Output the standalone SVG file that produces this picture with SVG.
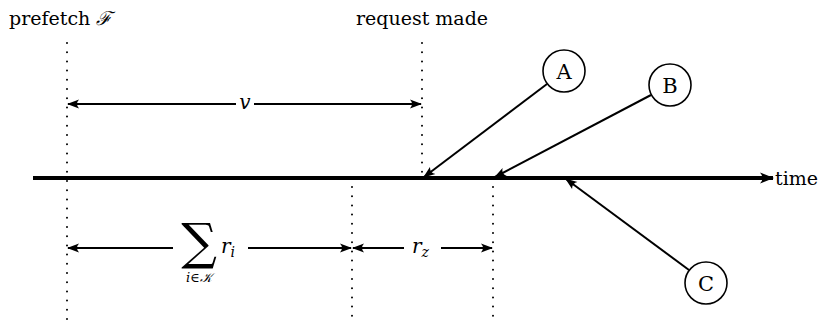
<svg xmlns="http://www.w3.org/2000/svg" width="825" height="321" viewBox="0 0 825 321">
  <style>
    .lbl { font-family: 'DejaVu Serif', serif; font-size: 19px; fill: #000; }
    .math { font-family: 'DejaVu Serif', serif; font-style: italic; fill: #000; }
    .dot { stroke: #000; stroke-width: 2; stroke-linecap: round; stroke-dasharray: 0 9.2; fill: none; }
    .arr { stroke: #000; stroke-width: 2; fill: none; marker-end: url(#tip); }
    .node circle { fill: #fff; stroke: #000; stroke-width: 1.6; }
    .node text { font-size: 21px; }
  </style>
  <defs>
    <marker id="tip" viewBox="0 0 12 10" refX="11" refY="5" markerWidth="12" markerHeight="10" markerUnits="userSpaceOnUse" orient="auto">
      <path d="M0,0.5 Q4,5 0,9.5 L12,5 Z" fill="#000"/>
    </marker>
    <marker id="bigtip" viewBox="0 0 14 12" refX="13" refY="6" markerWidth="14" markerHeight="12" markerUnits="userSpaceOnUse" orient="auto">
      <path d="M0,0.5 Q5,6 0,11.5 L14,6 Z" fill="#000"/>
    </marker>
  </defs>

  <!-- time axis -->
  <g id="axis">
    <line x1="33" y1="178" x2="773" y2="178" stroke="#000" stroke-width="4" marker-end="url(#bigtip)"/>
    <text class="lbl" x="775" y="185">time</text>
  </g>

  <!-- dotted guide lines -->
  <g id="guides">
    <line class="dot" x1="67" y1="43" x2="67" y2="320"/>
    <line class="dot" x1="422" y1="43" x2="422" y2="172"/>
    <line class="dot" x1="352" y1="187" x2="352" y2="320"/>
    <line class="dot" x1="493" y1="187" x2="493" y2="320"/>
  </g>

  <!-- labels above the axis -->
  <g id="labels">
    <text class="lbl" x="9" y="25">prefetch <tspan font-style="italic">ℱ</tspan></text>
    <text class="lbl" x="422" y="25" text-anchor="middle">request made</text>
  </g>

  <!-- interval v -->
  <g id="interval-v">
    <line class="arr" x1="236" y1="104" x2="68" y2="104"/>
    <line class="arr" x1="254" y1="104" x2="421" y2="104"/>
    <text class="math" x="245" y="109" font-size="20" text-anchor="middle">v</text>
  </g>

  <!-- interval sum r_i -->
  <g id="interval-sum">
    <line class="arr" x1="173" y1="248" x2="68" y2="248"/>
    <line class="arr" x1="248" y1="248" x2="351" y2="248"/>
    <text x="199" y="259" font-family="'DejaVu Serif', serif" font-size="50" text-anchor="middle">∑</text>
    <text class="math" x="221" y="253" font-size="20">r<tspan font-size="14" dy="4">i</tspan></text>
    <text class="math" x="199" y="282" font-size="13" text-anchor="middle">i∈𝒦</text>
  </g>

  <!-- interval r_z -->
  <g id="interval-rz">
    <line class="arr" x1="404" y1="248" x2="353" y2="248"/>
    <line class="arr" x1="441" y1="248" x2="492" y2="248"/>
    <text class="math" x="412" y="253" font-size="20">r<tspan font-size="14" dy="4">z</tspan></text>
  </g>

  <!-- connectors from event nodes -->
  <g id="connectors">
    <line class="arr" x1="547" y1="84" x2="424" y2="177"/>
    <line class="arr" x1="651" y1="95" x2="495" y2="177"/>
    <line class="arr" x1="689" y1="270" x2="566" y2="179"/>
  </g>

  <g id="node-A" class="node">
    <circle cx="564" cy="71" r="21"/>
    <text class="lbl" x="564" y="78.5" text-anchor="middle">A</text>
  </g>
  <g id="node-B" class="node">
    <circle cx="670" cy="85" r="21"/>
    <text class="lbl" x="670" y="92.5" text-anchor="middle">B</text>
  </g>
  <g id="node-C" class="node">
    <circle cx="706" cy="283" r="21"/>
    <text class="lbl" x="706" y="290.5" text-anchor="middle">C</text>
  </g>
</svg>
